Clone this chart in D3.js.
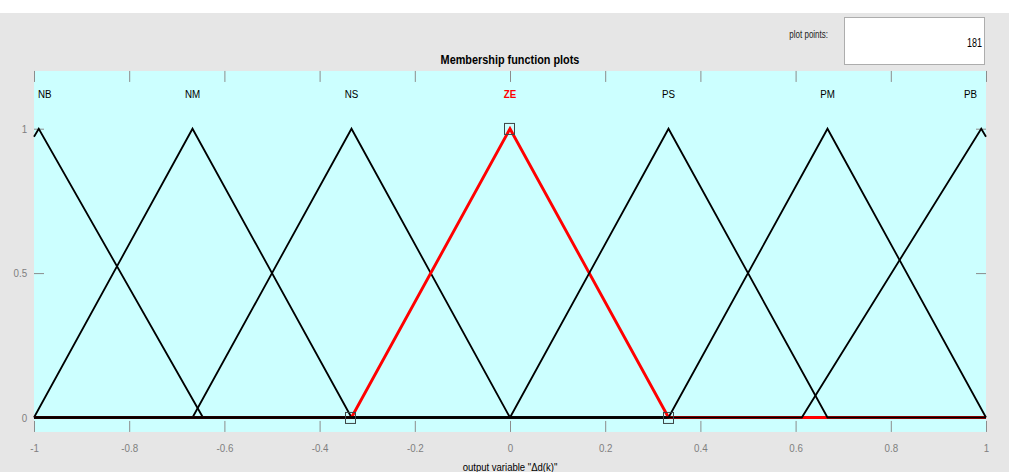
<!DOCTYPE html>
<html>
<head>
<meta charset="utf-8">
<script src="https://cdn.jsdelivr.net/npm/d3@7"></script>
<style>
  body { margin: 0; background: #e6e6e6; }
  svg { display: block; font-family: "Liberation Sans", Arial, Helvetica, sans-serif; }
</style>
</head>
<body>
<div id="chart"></div>
<script>
// membership functions of output variable (triangles: left foot, peak, right foot)
const mfNames = ['NB', 'NM', 'NS', 'ZE', 'PS', 'PM', 'PB'];
const mfLeft = [-1.35, -1, -0.667, -0.333, 0, 0.333, 0.613];
const mfPeak = [-0.99, -0.667, -0.333, 0, 0.333, 0.667, 0.99];
const mfRight = [-0.645, -0.333, 0, 0.333, 0.667, 1, 1.35];
const selectedMf = 'ZE';

const xTicks = [-1, -0.8, -0.6, -0.4, -0.2, 0, 0.2, 0.4, 0.6, 0.8, 1];
const xTickLabels = ['-1', '-0.8', '-0.6', '-0.4', '-0.2', '0', '0.2', '0.4', '0.6', '0.8', '1'];
const yTicks = [0, 0.5, 1];
const yTickLabels = ['0', '0.5', '1'];
const plotPoints = 181;

const W = 1009, H = 472;
const margin = { top: 70.94, right: 23, bottom: 40, left: 34 };
const width = W - margin.left - margin.right;
const height = 361;
const condense = 0.85; // narrow look of the original UI font

const svg = d3.select('#chart').append('svg')
  .attr('width', W)
  .attr('height', H);

svg.append('rect').attr('width', W).attr('height', H).attr('fill', '#e6e6e6');
svg.append('rect').attr('width', W).attr('height', 13).attr('fill', '#ffffff');

const label = (parent, px, py, str, size, anchor, sx) =>
  parent.append('text')
    .attr('transform', `translate(${px},${py}) scale(${sx || condense},1)`)
    .attr('text-anchor', anchor)
    .attr('font-size', size)
    .text(str);

// plot points box
label(svg, 828, 38, 'plot points:', 10, 'end', 0.8).attr('fill', '#222');
svg.append('rect')
  .attr('x', 844.5).attr('y', 17.5)
  .attr('width', 140).attr('height', 47)
  .attr('fill', '#fff')
  .attr('stroke', '#adadad');
label(svg, 982, 47, plotPoints, 12, 'end', 0.75).attr('fill', '#000');

const g = svg.append('g')
  .attr('transform', `translate(${margin.left},${margin.top})`);

const x = d3.scaleLinear().domain([-1, 1]).range([0, width]);
const y = d3.scaleLinear().domain([-0.05, 1.2]).range([height, 0]);

g.append('rect')
  .attr('width', width).attr('height', height)
  .attr('fill', '#ccffff');

// title
label(svg, margin.left + width / 2, 64, 'Membership function plots', 12.5, 'middle', 0.87)
  .attr('font-weight', 'bold')
  .attr('fill', '#000');

// axes (ticks inward on all four sides)
const tickLen = 11;
const styleAxis = (sel) => {
  sel.select('.domain').remove();
  sel.selectAll('.tick line').attr('stroke', '#8c8c8c');
  sel.selectAll('.tick text')
    .attr('fill', '#7f7f7f')
    .attr('font-size', 11.5)
    .attr('font-family', '"Liberation Sans", Arial, sans-serif')
    .attr('transform', `scale(${condense},1)`);
};

g.append('g')
  .attr('transform', `translate(0,${height})`)
  .call(d3.axisBottom(x).tickValues(xTicks).tickSize(-tickLen).tickPadding(12)
    .tickFormat((d, i) => xTickLabels[i]))
  .call(styleAxis);

g.append('g')
  .call(d3.axisTop(x).tickValues(xTicks).tickSize(-tickLen).tickFormat(''))
  .call(styleAxis);

g.append('g')
  .call(d3.axisLeft(y).tickValues(yTicks).tickSize(-tickLen + 1).tickPadding(8)
    .tickFormat((d, i) => yTickLabels[i]))
  .call(styleAxis);

g.append('g')
  .attr('transform', `translate(${width},0)`)
  .call(d3.axisRight(y).tickValues(yTicks).tickSize(-tickLen + 1).tickFormat(''))
  .call(styleAxis);

// MF curves
const trimf = (v, a, b, c) => Math.max(0, Math.min((v - a) / (b - a), (c - v) / (c - b)));
const mfPath = (i) => {
  const a = mfLeft[i], b = mfPeak[i], c = mfRight[i];
  const pts = [[-1, trimf(-1, a, b, c)]];
  [a, b, c].forEach((v) => {
    if (v > -1 && v < 1) pts.push([v, trimf(v, a, b, c)]);
  });
  pts.push([1, trimf(1, a, b, c)]);
  return pts;
};
const line = d3.line().x((d) => x(d[0])).y((d) => y(d[1]));

mfNames.forEach((name, i) => {
  const sel = name === selectedMf;
  g.append('path')
    .attr('d', line(mfPath(i)))
    .attr('fill', 'none')
    .attr('stroke', sel ? '#ff0000' : '#000000')
    .attr('stroke-width', sel ? 2.9 : 1.8)
    .attr('stroke-linejoin', 'miter');
});

// vertex markers of the selected MF
const si = mfNames.indexOf(selectedMf);
[[mfLeft[si], 0], [mfPeak[si], 1], [mfRight[si], 0]].forEach((p) => {
  g.append('rect')
    .attr('x', Math.round(x(p[0])) - 5.5).attr('y', Math.round(y(p[1])) - 5.5)
    .attr('width', 10).attr('height', 11)
    .attr('fill', 'none')
    .attr('stroke', '#3c4646')
    .attr('stroke-width', 1);
});

// MF labels
mfNames.forEach((name, i) => {
  let px = x(mfPeak[i]);
  let anchor = 'middle';
  if (i === 0) { px = x(-1) + 4; anchor = 'start'; }
  if (i === mfNames.length - 1) { px = x(1) - 9; anchor = 'end'; }
  label(g, px, y(1.12) + 4, name, 11.5, anchor)
    .attr('font-weight', name === selectedMf ? 'bold' : 'normal')
    .attr('fill', name === selectedMf ? '#ff0000' : '#000');
});

// x label
label(svg, margin.left + width / 2, 471, 'output variable "Δd(k)"', 11.5, 'middle', 0.83)
  .attr('fill', '#000');
</script>
</body>
</html>
